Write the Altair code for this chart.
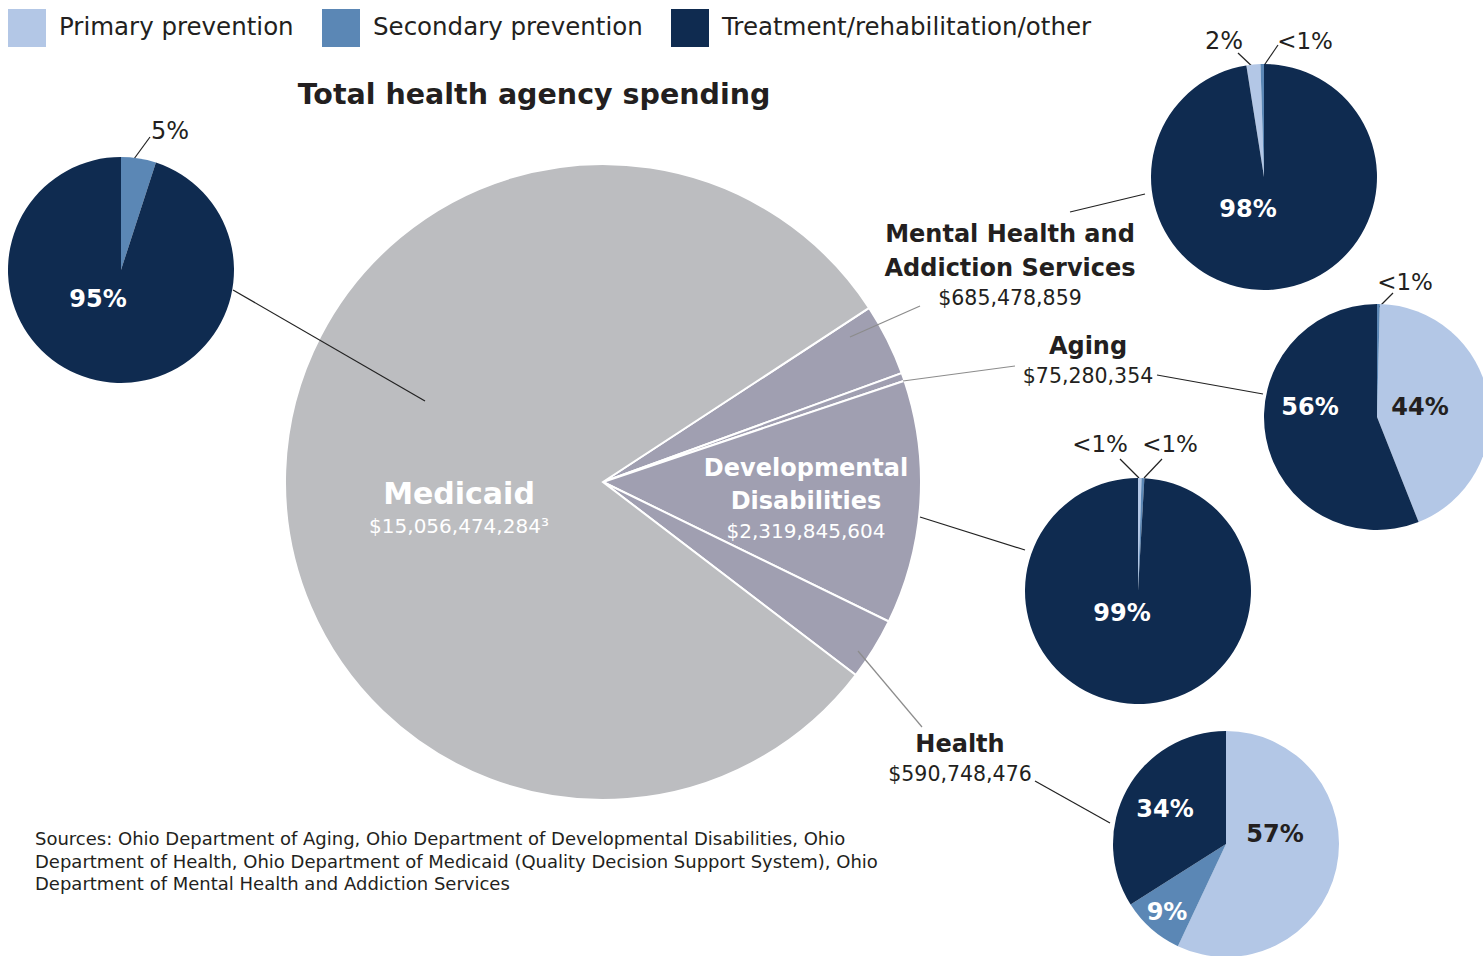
import math
import altair as alt
import pandas as pd

W, H = 1483, 956
FONT = "DejaVu Sans"
INK = "#231F20"

# ---------------- data ----------------
agencies = ["Mental Health and Addiction Services", "Aging",
            "Developmental Disabilities", "Health", "Medicaid"]
spending = [685478859, 75280354, 2319845604, 590748476, 15056474284]
agency_fill = ["#A09FB1", "#A09FB1", "#A09FB1", "#A09FB1", "#BCBDC0"]

categories = ["Primary prevention", "Secondary prevention",
              "Treatment/rehabilitation/other"]
cat_colors = ["#B3C7E6", "#5B87B5", "#0F2B50"]

# shares (%) in order primary, secondary, treatment
medicaid_share = [0, 5, 95]
mhas_share = [2, 0.5, 97.5]
aging_share = [43.6, 0.4, 56.0]
dd_share = [0.5, 0.4, 99.1]
health_share = [57, 9, 34]

# clockwise drawing order of the three categories in each small pie
medicaid_order = [3, 1, 2]
mhas_order = [2, 3, 1]
aging_order = [2, 1, 3]
dd_order = [1, 2, 3]
health_order = [1, 2, 3]

# ---------------- helpers ----------------
color_scale = alt.Scale(domain=categories, range=cat_colors)
legend = alt.Legend(
    title=None, orient="none", legendX=8, legendY=9, direction="horizontal",
    symbolType="square", symbolSize=1444, symbolStrokeWidth=0,
    symbolOpacity=1, labelFontSize=24.5, labelFont=FONT, labelColor=INK,
    labelOffset=13, columnPadding=28, padding=0, labelLimit=500,
)

R_BIG = 318
R_SMALL = 113
DY = 2  # vertical nudge for text


def small_pie(shares, order, cx, cy):
    df = pd.DataFrame({"category": categories, "share": shares, "ord": order})
    df = df[df["share"] > 0]
    return alt.Chart(df).mark_arc(outerRadius=R_SMALL, x=cx, y=cy).encode(
        theta=alt.Theta("share:Q", stack=True,
                        scale=alt.Scale(range=[0, 2 * math.pi])),
        order=alt.Order("ord:Q"),
        color=alt.Color("category:N", scale=color_scale, legend=legend),
    )


def label(txt, x, y, size=20.5, weight="normal", color=INK, align="center"):
    df = pd.DataFrame({"t": [txt]})
    return alt.Chart(df).mark_text(
        x=x, y=y + DY, fontSize=size, fontWeight=weight, color=color,
        font=FONT, align=align, baseline="middle",
    ).encode(text="t:N")


def leader(x1, y1, x2, y2, color="#222222", width=1.2):
    df = pd.DataFrame({"k": [0]})
    return alt.Chart(df).mark_rule(color=color, strokeWidth=width).encode(
        x=alt.value(x1), y=alt.value(y1), x2=alt.value(x2), y2=alt.value(y2)
    )


# ---------------- big pie ----------------
start = math.radians(56.8)
big_df = pd.DataFrame({"agency": agencies, "spending": spending,
                       "ord": list(range(len(agencies))),
                       "fillc": agency_fill})
big = alt.Chart(big_df).mark_arc(
    outerRadius=R_BIG, x=603, y=482, stroke="white", strokeWidth=2
).encode(
    theta=alt.Theta("spending:Q", stack=True,
                    scale=alt.Scale(range=[start, start + 2 * math.pi])),
    order=alt.Order("ord:Q"),
    fill=alt.Fill("fillc:N", scale=None),
)

layers = [big]

# leaders
layers += [
    leader(233, 290, 425, 401),
    leader(850, 337, 920, 306, color="#8C8C8C"),
    leader(903, 381, 1015, 366, color="#8C8C8C"),
    leader(920, 517, 1025, 550),
    leader(858, 651, 922, 727, color="#8C8C8C"),
    leader(1070, 212, 1145, 194),
    leader(1157, 375, 1263, 394),
    leader(1035, 781, 1110, 823),
    # small slice leaders
    leader(150, 137, 131, 163),
    leader(1238, 53, 1256, 70),
    leader(1278, 45, 1263, 67),
    leader(1393, 293, 1379, 307),
    leader(1120, 459, 1139, 478),
    leader(1162, 459, 1144, 478),
]

# small pies
layers += [
    small_pie(medicaid_share, medicaid_order, 121, 270),
    small_pie(mhas_share, mhas_order, 1264, 177),
    small_pie(aging_share, aging_order, 1377, 417),
    small_pie(dd_share, dd_order, 1138, 591),
    small_pie(health_share, health_order, 1226, 844),
]

# texts
layers += [
    label("Total health agency spending", 534, 93, size=28.5, weight="bold"),
    label("Medicaid", 459, 493, size=30, weight="bold", color="white"),
    label("$15,056,474,284³", 459, 525, size=20, color="white"),
    label("Developmental", 806, 467, size=24, weight="bold", color="white"),
    label("Disabilities", 806, 500, size=24, weight="bold", color="white"),
    label("$2,319,845,604", 806, 530, size=20, color="white"),
    label("Mental Health and", 1010, 233, size=24, weight="bold"),
    label("Addiction Services", 1010, 267, size=24, weight="bold"),
    label("$685,478,859", 1010, 297),
    label("Aging", 1088, 345, size=24, weight="bold"),
    label("$75,280,354", 1088, 375),
    label("Health", 960, 743, size=24, weight="bold"),
    label("$590,748,476", 960, 773),
    # percentages
    label("95%", 98, 298, size=24, weight="bold", color="white"),
    label("5%", 170, 130, size=24),
    label("98%", 1248, 208, size=24, weight="bold", color="white"),
    label("2%", 1224, 40, size=24),
    label("<1%", 1305, 40, size=23),
    label("56%", 1310, 406, size=24, weight="bold", color="white"),
    label("44%", 1420, 406, size=24, weight="bold", color=INK),
    label("<1%", 1405, 281, size=23),
    label("99%", 1122, 612, size=24, weight="bold", color="white"),
    label("<1%", 1100, 443, size=23),
    label("<1%", 1170, 443, size=23),
    label("34%", 1165, 808, size=24, weight="bold", color="white"),
    label("57%", 1275, 833, size=24, weight="bold", color=INK),
    label("9%", 1167, 911, size=24, weight="bold", color="white"),
    # sources
    label("Sources: Ohio Department of Aging, Ohio Department of Developmental Disabilities, Ohio",
          35, 838, size=18, align="left"),
    label("Department of Health, Ohio Department of Medicaid (Quality Decision Support System), Ohio",
          35, 861, size=18, align="left"),
    label("Department of Mental Health and Addiction Services",
          35, 883, size=18, align="left"),
]

chart = alt.layer(*layers).resolve_scale(theta="independent").properties(
    width=W, height=H, autosize=alt.AutoSizeParams(type="none"), padding=0
).configure_view(stroke=None)

chart.save("out.html", embed_options={"renderer": "svg", "actions": False})
